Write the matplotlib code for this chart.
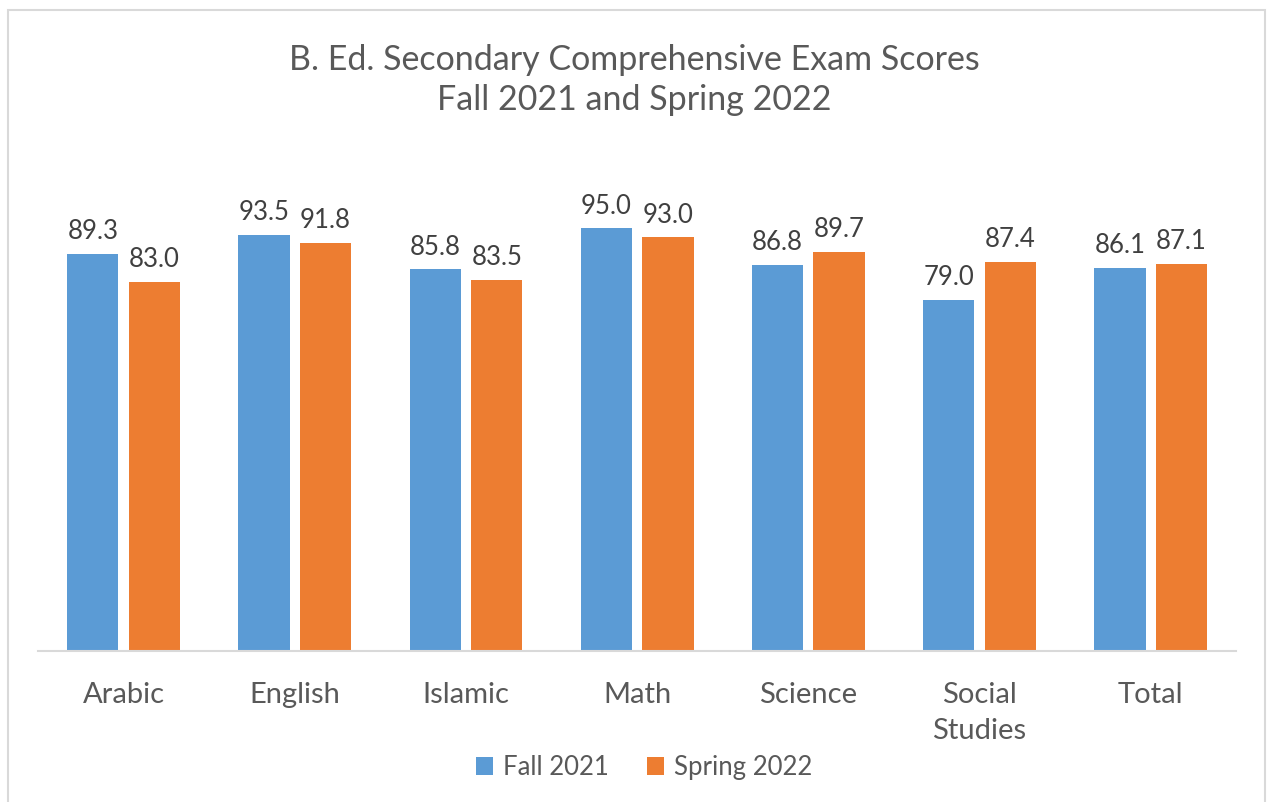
import numpy as np
import matplotlib.pyplot as plt

categories = ["Arabic", "English", "Islamic", "Math", "Science", "Social\nStudies", "Total"]
fall_2021 = [89.3, 93.5, 85.8, 95.0, 86.8, 79.0, 86.1]
spring_2022 = [83.0, 91.8, 83.5, 93.0, 89.7, 87.4, 87.1]

plt.rcParams["font.family"] = ["Lato", "DejaVu Sans"]

fig = plt.figure(figsize=(12.68, 8.02), dpi=100)
ax = fig.add_axes([0.030, 0.188, 0.945, 0.555])

x = np.arange(len(categories))
w = 0.30
b1 = ax.bar(x - 0.18, fall_2021, w, color="#5B9BD5", label="Fall 2021")
b2 = ax.bar(x + 0.18, spring_2022, w, color="#ED7D31", label="Spring 2022")

for bars in (b1, b2):
    for r in bars:
        ax.annotate(f"{r.get_height():.1f}", (r.get_x() + r.get_width() / 2, r.get_height()),
                    xytext=(0, 7), textcoords="offset points", ha="center", va="bottom",
                    fontsize=18.5, color="#404040")

ax.set_xlim(-0.5, len(categories) - 0.5)
ax.set_ylim(0, 100)
ax.set_yticks([])
ax.set_xticks(x)
ax.set_xticklabels(categories, fontsize=21, color="#595959", linespacing=1.5)
ax.tick_params(axis="x", length=0, pad=22)
for s in ["top", "right", "left"]:
    ax.spines[s].set_visible(False)
ax.spines["bottom"].set_color("#D9D9D9")
ax.spines["bottom"].set_linewidth(1.5)

fig.text(0.5, 0.9, "B. Ed. Secondary Comprehensive Exam Scores\nFall 2021 and Spring 2022",
         ha="center", va="center", fontsize=24.5, color="#595959", linespacing=1.33)

fig.legend(loc="center", bbox_to_anchor=(0.508, 0.043), ncol=2, frameon=False,
           fontsize=18.5, handlelength=0.65, handleheight=0.65, handletextpad=0.4,
           columnspacing=1.5, labelcolor="#595959")

border = plt.Rectangle((0.006, -0.01), 0.992, 0.998, transform=fig.transFigure,
                       fill=False, edgecolor="#D9D9D9", linewidth=1.5)
fig.patches.append(border)

fig.savefig("out.png", dpi=100)
